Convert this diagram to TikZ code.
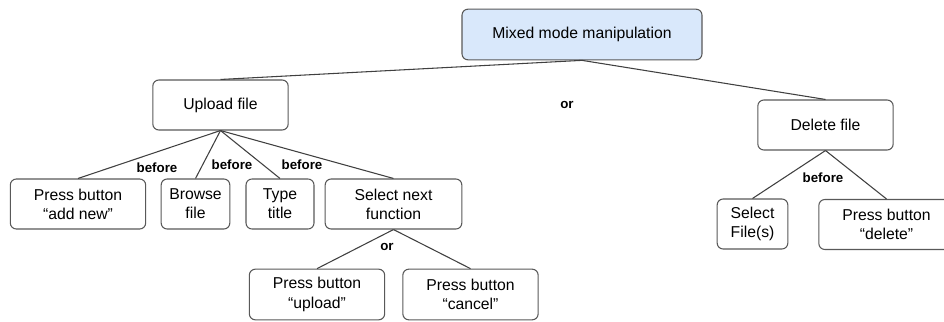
\documentclass[tikz,border=0pt]{standalone}
\usepackage{fontspec}
\setmainfont{Liberation Sans}
\definecolor{topfill}{RGB}{217,232,251}
\begin{document}
\begin{tikzpicture}[x=0.75pt,y=-0.75pt,
  box/.style={draw=black!65,line width=0.8pt,rounded corners=4.5pt,fill=white,
    minimum height=37.5pt,inner sep=1pt,align=center,font=\fontsize{11.8}{14.4}\selectfont},
  topbox/.style={box,fill=topfill,minimum width=180pt,minimum height=38pt},
  w135/.style={minimum width=101.5pt},
  w70/.style={minimum width=52pt},
  conn/.style={draw=black!75,line width=0.8pt},
  lab/.style={font=\fontsize{10}{12}\selectfont\bfseries,inner sep=0pt}]
\useasboundingbox (0,0) rectangle (944,321);
\node[topbox] (top) at (582,34.5) {Mixed mode manipulation};
\node[box,w135] (upl) at (220.5,105) {Upload file};
\node[box,w135] (del) at (825.5,125) {Delete file};
\node[box,w135] (addnew) at (78,204) {Press button\\“add new”};
\node[box,w70,minimum width=51.5pt] (browse) at (195.5,204) {Browse\\file};
\node[box,w70,minimum width=51pt] (type) at (280,204) {Type\\title};
\node[box,w135,minimum width=102.5pt] (sel) at (393.5,204) {Select next\\function};
\node[box,w135,minimum height=38pt] (uplbtn) at (317,294.5) {Press button\\“upload”};
\node[box,w135,minimum height=38pt] (cancel) at (470.5,294.5) {Press button\\“cancel”};
\node[box,minimum width=53pt] (selfiles) at (752.5,224) {Select\\File(s)};
\node[box,w135] (delbtn) at (886.5,224.5) {Press button\\“delete”};
\draw[conn] (top.south) -- (upl.north);
\draw[conn] (top.south) -- (del.north);
\draw[conn] (upl.south) -- (addnew.north);
\draw[conn] (upl.south) -- (browse.north);
\draw[conn] (upl.south) -- (type.north);
\draw[conn] (upl.south) -- (sel.north);
\draw[conn] (sel.south) -- (uplbtn.north);
\draw[conn] (sel.south) -- (cancel.north);
\draw[conn] (del.south) -- (selfiles.north);
\draw[conn] (del.south) -- (delbtn.north);
\node[lab] (or1) at (567,105) {or};
\node[lab] (b1) at (157,168) {before};
\node[lab] (b2) at (232,165) {before};
\node[lab] (b3) at (302,165) {before};
\node[lab] (or2) at (387,247) {or};
\node[lab] (b4) at (823,178) {before};
\end{tikzpicture}
\end{document}
